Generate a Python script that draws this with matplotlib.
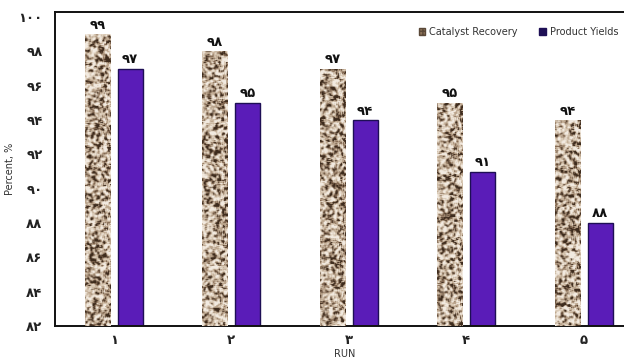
import numpy as np
import matplotlib
matplotlib.use('Agg')
import matplotlib.pyplot as plt
from matplotlib.patches import Patch

runs = [1, 2, 3, 4, 5]
catalyst_recovery = [99, 98, 97, 95, 94]
product_yields = [97, 95, 94, 91, 88]
y_ticks = [82, 84, 86, 88, 90, 92, 94, 96, 98, 100]

PERSIAN = str.maketrans('0123456789', '۰۱۲۳۴۵۶۷۸۹')


def fa(n):
    return str(n).translate(PERSIAN)


fig = plt.figure(figsize=(6.24, 3.63), dpi=100)
# axes runs past the right edge of the figure, like the original export
ax = fig.add_axes([55 / 624, 37 / 363, 587.5 / 624, 314 / 363])

x = np.array(runs, dtype=float)
w = 0.215
off = 0.14
ymin, ymax = 82, 100.3

cat_bars = ax.bar(x - off, catalyst_recovery, w, color='#c8b098',
                  edgecolor='none', zorder=2)
prod_bars = ax.bar(x + off, product_yields, w, color='#5a1cb8',
                   edgecolor='#1e0f55', linewidth=1.0, zorder=2)

# granite-like fill for the catalyst bars
rng = np.random.default_rng(7)
noise = rng.random((330, 620))
smooth = noise.copy()
for dy in (-1, 0, 1):
    for dx in (-1, 0, 1):
        if dy or dx:
            smooth += np.roll(np.roll(noise, dy, 0), dx, 1)
smooth /= 9
levels = np.digitize(smooth, np.quantile(smooth, [0.14, 0.28, 0.55, 0.8]))
palette = np.array([[62, 44, 30], [128, 102, 80], [186, 164, 140],
                    [218, 202, 182], [242, 234, 224]]) / 255
tex = palette[levels]
for bar in cat_bars:
    im = ax.imshow(tex, extent=(0.5, 5.5, ymin, ymax), aspect='auto',
                   interpolation='bilinear', zorder=3)
    im.set_clip_path(bar)

ax.set_xlim(0.5, 5.5)
ax.set_ylim(ymin, ymax)

for xi, v in zip(x - off, catalyst_recovery):
    ax.text(xi, v + 0.15, fa(v), ha='center', va='bottom', fontsize=9.5,
            fontweight='bold', color='#111111', family='DejaVu Sans')
for xi, v in zip(x + off, product_yields):
    ax.text(xi, v + 0.15, fa(v), ha='center', va='bottom', fontsize=9.5,
            fontweight='bold', color='#111111', family='DejaVu Sans')

ax.set_xticks(x)
ax.set_xticklabels([fa(r) for r in runs], fontsize=9.5, fontweight='bold',
                   family='DejaVu Sans')
ax.set_yticks(y_ticks)
ax.set_yticklabels([fa(t) for t in y_ticks], fontsize=9.5, fontweight='bold',
                   family='DejaVu Sans')
ax.tick_params(length=0, pad=9, colors='#222222')
ax.tick_params(axis='x', pad=6)

for s in ax.spines.values():
    s.set_linewidth(1.4)
    s.set_color('#111111')

ax.set_ylabel('Percent, %', fontsize=7, color='#333333')
ax.yaxis.set_label_coords(-40 / 587.5, 0.5)
ax.set_xlabel('RUN', fontsize=7, color='#333333')
ax.xaxis.set_label_coords((345 - 55) / 587.5, -33 / 314)
ax.xaxis.label.set_va('bottom')

handles = [Patch(facecolor='#8c7258', edgecolor='#5a4838', hatch='++++'),
           Patch(facecolor='#1e0f55', edgecolor='#1e0f55')]
fig.legend(handles, ['Catalyst Recovery', 'Product Yields'], ncol=2,
           loc='center right', bbox_to_anchor=(1.005, 0.912), frameon=False,
           fontsize=7, handlelength=0.7, handleheight=0.7, handletextpad=0.4,
           columnspacing=2.2, labelcolor='#333333')

fig.savefig('out.png', dpi=100)
